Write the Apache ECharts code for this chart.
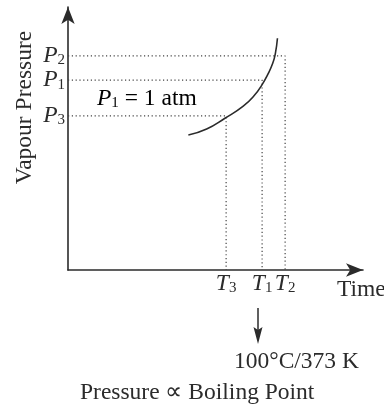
<!DOCTYPE html>
<html>
<head>
<meta charset="utf-8">
<script src="https://cdn.jsdelivr.net/npm/echarts@6/dist/echarts.min.js"></script>
<style>
  html, body { margin: 0; padding: 0; background: #fff; }
  #chart { width: 384px; height: 404px; }
</style>
</head>
<body>
<div id="chart"></div>
<script>
// vapour pressure curve (arbitrary 0-100 units on both axes)
const curveX = [40.8, 47.0, 53.2, 59.4, 63.4, 65.7, 67.6, 69.4, 70.3, 71.0]
const curveY = [51.3, 53.6, 57.7, 62.3, 66.7, 70.3, 74.1, 78.6, 82.4, 88.1]

// reference levels: pressure -> temperature
const levelNames = ['3', '1', '2']
const pressures = [58.6, 72.2, 81.4]
const temps = [53.6, 65.8, 73.6]

const serif = 'Liberation Serif'
const ink = '#2b2b2b'
const fs = 23.5

const subRich = {
  i: { fontFamily: serif, fontStyle: 'italic', fontSize: fs, color: ink, lineHeight: 22 },
  s: { fontFamily: serif, fontSize: 15, color: ink, lineHeight: 14, padding: [9, 0, 0, 0] },
  n: { fontFamily: serif, fontSize: fs, color: ink, lineHeight: 22 }
}

function labelFor(values, letter) {
  return function (v) {
    const i = values.indexOf(v)
    return i < 0 ? '' : '{i|' + letter + '}{s|' + levelNames[i] + '}'
  }
}

const chart = echarts.init(document.getElementById('chart'), null, { renderer: 'canvas' })

const dotted = pressures.map((p, i) => ({
  type: 'line',
  data: [[0, p], [temps[i], p], [temps[i], 0]],
  showSymbol: false,
  silent: true,
  lineStyle: { color: '#444', width: 1.2, type: [1.2, 2.6] }
}))

const option = {
  backgroundColor: '#fff',
  animation: false,
  grid: { left: 68, right: 21, top: 7, bottom: 134, outerBoundsMode: 'none' },
  xAxis: {
    type: 'value',
    min: 0,
    max: 100,
    name: 'Time',
    nameLocation: 'end',
    nameGap: -26,
    nameMoveOverlap: false,
    nameTextStyle: { fontFamily: serif, fontSize: fs, color: ink, align: 'left', verticalAlign: 'top', padding: [8, 0, 0, 0] },
    axisLine: { show: true, symbol: ['none', 'arrow'], symbolSize: [10, 17], lineStyle: { color: ink, width: 1.6 } },
    axisTick: { show: false },
    splitLine: { show: false },
    axisLabel: {
      customValues: temps,
      hideOverlap: false,
      margin: 3,
      formatter: labelFor(temps, 'T'),
      rich: subRich
    }
  },
  yAxis: {
    type: 'value',
    min: 0,
    max: 100,
    name: 'Vapour Pressure',
    nameLocation: 'middle',
    nameRotate: 90,
    nameGap: 31,
    nameMoveOverlap: false,
    nameTextStyle: { fontFamily: serif, fontSize: fs, color: ink, padding: [0, 0, 0, 62] },
    axisLine: { show: true, symbol: ['none', 'arrow'], symbolSize: [10, 17], lineStyle: { color: ink, width: 1.6 } },
    axisTick: { show: false },
    splitLine: { show: false },
    axisLabel: {
      customValues: pressures,
      hideOverlap: false,
      margin: 3,
      formatter: labelFor(pressures, 'P'),
      rich: subRich
    }
  },
  series: dotted.concat([{
    type: 'line',
    data: curveX.map((x, i) => [x, curveY[i]]),
    smooth: 0.5,
    showSymbol: false,
    silent: true,
    lineStyle: { color: ink, width: 1.6 }
  }]),
  graphic: [
    {
      type: 'text',
      x: 97,
      y: 99,
      style: { text: '{i|P}{s|1}{n| = 1 atm}', rich: subRich, verticalAlign: 'middle' }
    },
    {
      type: 'line',
      shape: { x1: 258, y1: 308, x2: 258, y2: 336 },
      style: { stroke: ink, lineWidth: 1.5 }
    },
    {
      type: 'polygon',
      shape: { points: [[253.5, 327], [258, 330], [262.5, 327], [258, 344]] },
      style: { fill: ink }
    },
    {
      type: 'text',
      x: 234,
      y: 362,
      style: { text: '100°C/373 K', fontFamily: serif, fontSize: fs, fill: ink, verticalAlign: 'middle' }
    },
    {
      type: 'text',
      x: 80,
      y: 393,
      style: { text: 'Pressure ∝ Boiling Point', fontFamily: serif, fontSize: fs, fill: ink, verticalAlign: 'middle' }
    }
  ]
}

chart.setOption(option)
</script>
</body>
</html>
